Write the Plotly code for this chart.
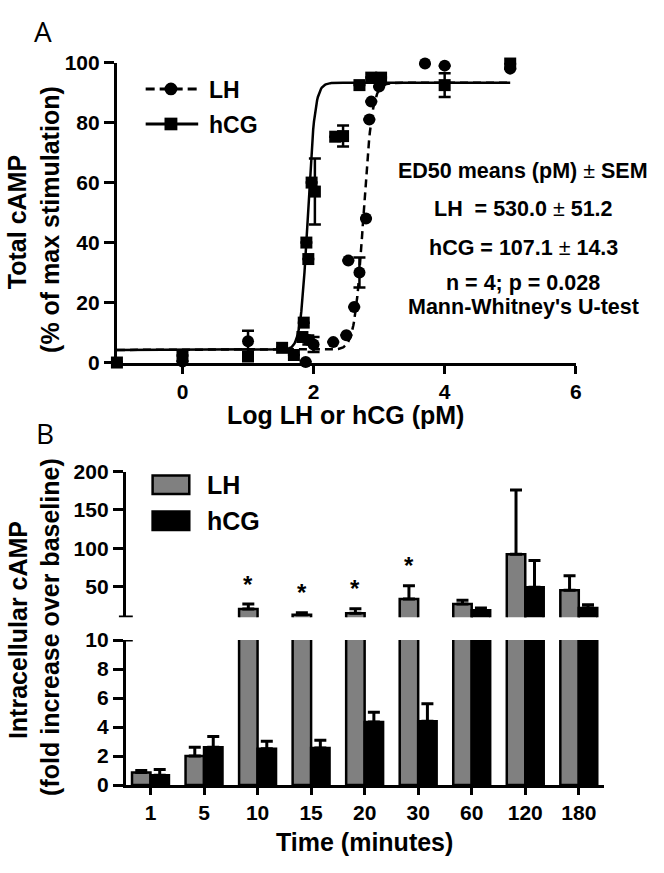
import numpy as np
import plotly.graph_objects as go

W, H = 664, 873

# ---------------- Panel A data (log dose vs % of max stimulation) ----------------
lh_logdose = [0, 1, 1.88, 1.92, 2.0, 2.3, 2.5, 2.53, 2.62, 2.7, 2.8, 2.85, 2.88, 3.0, 3.7, 4.0, 5.0]
lh_resp    = [0.3, 7.1, 0.2, 7.5, 6.0, 6.8, 9.1, 34, 18.5, 30, 48, 81, 87, 92, 99.7, 99, 98]
lh_sem     = [0, 3.5, 0, 1.5, 2.5, 0, 0, 0, 0, 5, 0, 0, 0, 0, 0, 0, 0]

hcg_logdose = [-1, 0, 1, 1.52, 1.7, 1.83, 1.85, 1.89, 1.92, 1.97, 2.02, 2.33, 2.45, 2.7, 2.88, 3.03, 4.0, 5.0]
hcg_resp    = [0, 2.3, 2.0, 4.9, 2.5, 8.5, 13.3, 40, 34.5, 60, 57, 75.3, 75.5, 92.5, 95, 95, 92.5, 99.7]
hcg_sem     = [0, 0, 0, 0, 0, 0, 0, 0, 0, 0, 11, 0, 3.5, 0, 0, 0, 4, 0]

# four-parameter logistic fits (bottom, top, logEC50, hill)
lh_fit = (4.2, 93.3, 2.76, 6.5)
hcg_fit = (4.2, 93.3, 1.91, 8.0)
fit_range = (-1, 5)

ed50_lines = ["ED50 means (pM) <span style='font-weight:normal'>±</span> SEM",
              "LH  = 530.0 <span style='font-weight:normal'>±</span> 51.2",
              "hCG = 107.1 <span style='font-weight:normal'>±</span> 14.3",
              "n = 4; p = 0.028",
              "Mann-Whitney's U-test"]

# ---------------- Panel B data (fold increase over baseline) ----------------
times = ["1", "5", "10", "15", "20", "30", "60", "120", "180"]
lh_mean = [0.87, 2.0, 20.5, 13, 15, 33.5, 27, 92, 45]
lh_err  = [0.13, 0.6, 6.5, 2.7, 6, 17.5, 5, 84, 19]
hcg_mean = [0.67, 2.6, 2.5, 2.55, 4.35, 4.4, 19, 49, 22]
hcg_err  = [0.4, 0.75, 0.52, 0.54, 0.67, 1.2, 3, 35, 4]
sig_times = ["10", "15", "20", "30"]

BREAK = 10

def px(x):
    return x / W

def py(y):
    return 1 - y / H

BOLD = dict(family="Liberation Sans, Arial, sans-serif", weight="bold", color="black")

def logistic(x, p):
    b, t, ec, h = p
    return b + (t - b) / (1 + 10 ** ((ec - x) * h))

fig = go.Figure()

xs = np.linspace(fit_range[0], fit_range[1], 500)
fig.add_trace(go.Scatter(x=xs, y=logistic(xs, hcg_fit), mode="lines",
                         line=dict(color="black", width=2.5), xaxis="x", yaxis="y",
                         showlegend=False, hoverinfo="skip"))
fig.add_trace(go.Scatter(x=xs, y=logistic(xs, lh_fit), mode="lines",
                         line=dict(color="black", width=2.5, dash="8px,5px"), xaxis="x", yaxis="y",
                         showlegend=False, hoverinfo="skip"))

def nz(arr):
    return [e if e > 0 else None for e in arr]

fig.add_trace(go.Scatter(x=hcg_logdose, y=hcg_resp, mode="markers", cliponaxis=False,
                         marker=dict(symbol="square", size=12, color="black"),
                         error_y=dict(type="data", array=nz(hcg_sem), color="black", thickness=2.5, width=6),
                         xaxis="x", yaxis="y", showlegend=False))
fig.add_trace(go.Scatter(x=lh_logdose, y=lh_resp, mode="markers", cliponaxis=False,
                         marker=dict(symbol="circle", size=12, color="black"),
                         error_y=dict(type="data", array=nz(lh_sem), color="black", thickness=2.5, width=6),
                         xaxis="x", yaxis="y", showlegend=False))

# Panel B: upper (broken) segment and lower segment
n = len(times)
def upper(vals):
    return [v if v > BREAK else None for v in vals]

def err_sel(means, errs, up):
    return [e if ((m > BREAK) == up) else None for m, e in zip(means, errs)]

bar_line = dict(color="black", width=2.5)
eb = dict(type="data", symmetric=False, color="black", thickness=3, width=6)

fig.add_trace(go.Bar(x=times, y=upper(lh_mean), marker=dict(color="#808080", line=bar_line),
                     error_y=dict(eb, array=err_sel(lh_mean, lh_err, True), arrayminus=[0] * n),
                     xaxis="x2", yaxis="y2", offsetgroup="lh", showlegend=False))
fig.add_trace(go.Bar(x=times, y=upper(hcg_mean), marker=dict(color="black", line=bar_line),
                     error_y=dict(eb, array=err_sel(hcg_mean, hcg_err, True), arrayminus=[0] * n),
                     xaxis="x2", yaxis="y2", offsetgroup="hcg", showlegend=False))
fig.add_trace(go.Bar(x=times, y=lh_mean, marker=dict(color="#808080", line=bar_line),
                     error_y=dict(eb, array=err_sel(lh_mean, lh_err, False), arrayminus=[0] * n),
                     xaxis="x3", yaxis="y3", offsetgroup="lh", showlegend=False))
fig.add_trace(go.Bar(x=times, y=hcg_mean, marker=dict(color="black", line=bar_line),
                     error_y=dict(eb, array=err_sel(hcg_mean, hcg_err, False), arrayminus=[0] * n),
                     xaxis="x3", yaxis="y3", offsetgroup="hcg", showlegend=False))

axis_common = dict(showline=True, linewidth=3, linecolor="black", ticks="outside",
                   tickwidth=3, tickcolor="black", showgrid=False, zeroline=False,
                   tickfont=dict(BOLD, size=21))

B_XDOM = [px(127), px(610)]
B_XRANGE = [-0.46, 8.48]
BARGAP = 0.31

fig.update_layout(
    width=W, height=H, margin=dict(l=0, r=0, t=0, b=0),
    paper_bgcolor="white", plot_bgcolor="white",
    barmode="group", bargap=BARGAP, bargroupgap=0,
    xaxis=dict(axis_common, domain=[px(118), px(581)], range=[-1, 6], tickvals=[0, 2, 4, 6],
               ticklen=8, anchor="y"),
    yaxis=dict(axis_common, domain=[py(360), py(52)], range=[0, 100], tickvals=[0, 20, 40, 60, 80, 100],
               ticklen=10, anchor="x"),
    xaxis2=dict(domain=B_XDOM, type="category", range=B_XRANGE, visible=False, anchor="y2"),
    yaxis2=dict(axis_common, domain=[py(621.5), py(472)], range=[BREAK, 200], tickvals=[50, 100, 150, 200],
                ticklen=10, anchor="x2"),
    xaxis3=dict(axis_common, domain=B_XDOM, type="category", range=B_XRANGE, ticklen=7, anchor="y3"),
    yaxis3=dict(axis_common, domain=[py(794), py(645)], range=[0, BREAK], tickvals=[0, 2, 4, 6, 8, 10],
                ticklen=10, anchor="x3"),
)

annotations = []
def txt(text, x, y, size, angle=0, font=None, xanchor="center"):
    f = dict(font or BOLD)
    f["size"] = size
    annotations.append(dict(text=text, x=px(x), y=py(y), xref="paper", yref="paper",
                            xanchor=xanchor, yanchor="middle", showarrow=False,
                            textangle=angle, font=f))

# panel labels
txt("A", 43, 20, 28, font=dict(family="Open Sans, sans-serif", color="black"))
txt("B", 45, 432, 28, font=dict(family="Open Sans, sans-serif", color="black"))

# axis titles
txt("Total cAMP", 17, 216, 25, angle=-90)
txt("(% of max stimulation)", 51, 213, 25, angle=-90)
txt("Log LH or hCG (pM)", 349, 414, 25)
txt("Intracellular cAMP", 18, 635, 25, angle=-90)
txt("(fold increase over baseline)", 51, 632, 25, angle=-90)
txt("Time (minutes)", 368, 852, 25)

# ED50 text block
for line, yy in zip(ed50_lines, [163, 202, 242, 278, 303]):
    txt(line, 528, yy, 21.5)

# legend texts
txt("LH", 209, 80, 23, xanchor="left")
txt("hCG", 209, 116, 23, xanchor="left")
txt("LH", 207, 486, 25, xanchor="left")
txt("hCG", 207, 523, 25, xanchor="left")

# significance stars above LH bars
half_bar = (1 - BARGAP) / 4
for t in sig_times:
    i = times.index(t)
    annotations.append(dict(text="*", x=i - half_bar, y=lh_mean[i] + lh_err[i], xref="x2", yref="y2",
                            xanchor="center", yanchor="middle", yshift=20, showarrow=False,
                            font=dict(BOLD, size=24)))

fig.update_layout(annotations=annotations)

shapes = []
# legend A samples
shapes.append(dict(type="line", xref="paper", yref="paper", x0=px(147), x1=px(200), y0=py(79), y1=py(79),
                   line=dict(color="black", width=3, dash="9px,5px")))
shapes.append(dict(type="circle", xref="paper", yref="paper", x0=px(166), x1=px(179), y0=py(85.5), y1=py(72.5),
                   fillcolor="black", line=dict(color="black", width=0)))
shapes.append(dict(type="line", xref="paper", yref="paper", x0=px(147), x1=px(200), y0=py(115), y1=py(115),
                   line=dict(color="black", width=3)))
shapes.append(dict(type="rect", xref="paper", yref="paper", x0=px(166), x1=px(179), y0=py(121.5), y1=py(108.5),
                   fillcolor="black", line=dict(color="black", width=0)))
# legend B samples
shapes.append(dict(type="rect", xref="paper", yref="paper", x0=px(154), x1=px(191), y0=py(495), y1=py(476),
                   fillcolor="#808080", line=dict(color="black", width=2.5)))
shapes.append(dict(type="rect", xref="paper", yref="paper", x0=px(154), x1=px(191), y0=py(532), y1=py(513),
                   fillcolor="black", line=dict(color="black", width=2.5)))
# axis break caps
shapes.append(dict(type="line", xref="paper", yref="y2", x0=px(120), x1=px(134), y0=BREAK, y1=BREAK,
                   line=dict(color="black", width=3)))
shapes.append(dict(type="line", xref="paper", yref="y3", x0=px(124), x1=px(134), y0=BREAK, y1=BREAK,
                   line=dict(color="black", width=3)))
fig.update_layout(shapes=shapes)

fig.write_html("out.html", config={"displayModeBar": False},
               post_script="document.body.style.margin='0px';document.body.style.overflow='hidden';")
